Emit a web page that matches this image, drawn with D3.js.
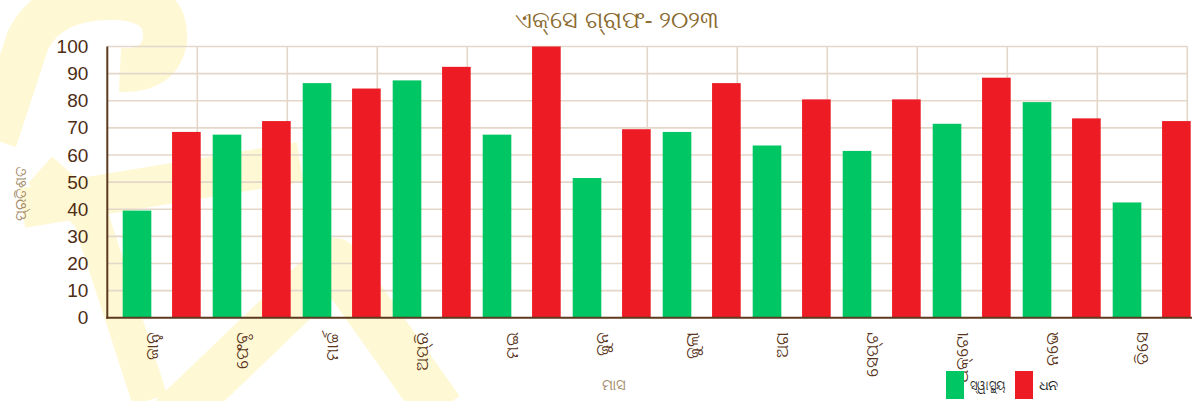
<!DOCTYPE html>
<html>
<head>
<meta charset="utf-8">
<script src="https://cdn.jsdelivr.net/npm/d3@7/dist/d3.min.js"></script>
<style>
  html, body { margin: 0; padding: 0; background: #ffffff; }
  svg { display: block; }
</style>
</head>
<body>
<svg id="chart" width="1192" height="401"></svg>
<script>
// Monthly percentages for two series
const months = ["ଜାନୁ", "ଫେବୃ", "ମାର୍ଚ୍ଚ", "ଅପ୍ରି", "ମଇ", "ଜୁନ", "ଜୁଲା", "ଅଗ", "ସେପ୍ଟ", "ଅକ୍ଟୋ", "ନଭେ", "ଡିସେ"];
const seriesNames = ["ସ୍ୱାସ୍ଥ୍ୟ", "ଧନ"];
const health = [39.5, 67.5, 86.5, 87.5, 67.5, 51.5, 68.5, 63.5, 61.5, 71.5, 79.5, 42.5];
const wealth = [68.5, 72.5, 84.5, 92.5, 100, 69.5, 86.5, 80.5, 80.5, 88.5, 73.5, 72.5];
const yTicks = [0, 10, 20, 30, 40, 50, 60, 70, 80, 90, 100];
const seriesColors = ["#00c764", "#ed1c24"];

const titleText = "ଏକ୍ସେ ଗ୍ରାଫ-  ୨୦୨୩";
const yLabel = "ପ୍ରତିଶତ";
const xLabel = "ମାସ";

const svg = d3.select("#chart");
const plot = { left: 107.3, right: 1187.3, top: 46.5, bottom: 317.7 };

// faint decorative backdrop strokes
const deco = svg.append("g").attr("fill", "none").attr("stroke", "#fff8d4").attr("stroke-linejoin", "round");
deco.append("path").attr("stroke-width", 44)
  .attr("d", "M -5,140 L 28,40 Q 48,0 105,-2 Q 168,-4 165,40 Q 160,72 120,70");
deco.append("path").attr("stroke-width", 40)
  .attr("d", "M 22,208 L 300,162");
deco.append("path").attr("stroke-width", 36)
  .attr("d", "M 40,170 L 90,215 L 150,400");
deco.append("path").attr("stroke-width", 48)
  .attr("d", "M 170,420 L 335,262 L 440,410");

const x = d3.scaleBand().domain(months).range([plot.left, plot.right]).padding(0);
const inner = d3.scaleBand().domain(seriesNames).range([15.4, 93.4]).paddingInner(0.42).paddingOuter(0);
const y = d3.scaleLinear().domain([0, 100]).range([plot.bottom, plot.top]);

// gridlines
const grid = svg.append("g").attr("stroke", "#e4d7ca").attr("stroke-width", 1.6);
grid.selectAll("line.h").data(yTicks.filter(d => d > 0)).enter().append("line")
  .attr("x1", plot.left).attr("x2", plot.right)
  .attr("y1", d => y(d)).attr("y2", d => y(d));
grid.selectAll("line.v").data(months.slice(1).map(m => x(m)).concat([plot.right])).enter().append("line")
  .attr("x1", d => d).attr("x2", d => d)
  .attr("y1", plot.top).attr("y2", plot.bottom);

// bars
const rows = months.map((m, i) => ({ month: m, values: [health[i], wealth[i]] }));
const groups = svg.append("g").selectAll("g").data(rows).enter().append("g")
  .attr("transform", d => `translate(${x(d.month)},0)`);
groups.selectAll("rect").data(d => d.values.map((v, j) => ({ name: seriesNames[j], v, j }))).enter().append("rect")
  .attr("x", d => inner(d.name))
  .attr("width", inner.bandwidth())
  .attr("y", d => y(d.v))
  .attr("height", d => y(0) - y(d.v))
  .attr("fill", d => seriesColors[d.j]);

// y axis
const yAxis = svg.append("g").attr("transform", `translate(${plot.left},0)`)
  .call(d3.axisLeft(y).tickValues(yTicks).tickSize(0).tickPadding(19));
yAxis.select(".domain").remove();
yAxis.selectAll("text").attr("fill", "#4e2d14").style("font-family", "'Liberation Sans', Arial, sans-serif").style("font-size", "19px");

// x axis, month names read upwards and hang below the baseline
const xAxis = svg.append("g").attr("transform", `translate(0,${plot.bottom})`)
  .call(d3.axisBottom(x).tickSize(0).tickPadding(0));
xAxis.select(".domain").remove();
xAxis.selectAll("text")
  .attr("fill", "#5a3520")
  .style("font-family", "'Noto Sans', sans-serif")
  .style("font-size", "17px")
  .attr("text-anchor", "end")
  .attr("x", 0).attr("y", 0)
  .attr("dy", "0.35em")
  .attr("transform", "translate(0,14) rotate(-90)");

// axis lines
const axisColor = "#5c3a1f";
svg.append("line").attr("x1", plot.left).attr("x2", plot.left).attr("y1", plot.top).attr("y2", plot.bottom + 1)
  .attr("stroke", axisColor).attr("stroke-width", 2);
svg.append("line").attr("x1", plot.left - 1).attr("x2", plot.right + 5).attr("y1", plot.bottom).attr("y2", plot.bottom)
  .attr("stroke", axisColor).attr("stroke-width", 2);

// title
svg.append("text").attr("x", 617).attr("y", 28).attr("text-anchor", "middle")
  .attr("fill", "#8a6a2e").style("font-family", "'Noto Sans', sans-serif").style("font-size", "24px")
  .text(titleText);

// axis titles
svg.append("text").attr("transform", "translate(21,193) rotate(-90)").attr("text-anchor", "middle")
  .attr("dy", "0.35em")
  .attr("fill", "#a48c6c").style("font-family", "'Noto Sans', sans-serif").style("font-size", "15px")
  .text(yLabel);
svg.append("text").attr("x", 614).attr("y", 390).attr("text-anchor", "middle")
  .attr("fill", "#a48c6c").style("font-family", "'Noto Sans', sans-serif").style("font-size", "15px")
  .text(xLabel);

// legend
const legendWidths = [36, 20];
const legend = svg.append("g").attr("transform", "translate(946,371)");
const li = legend.selectAll("g").data(seriesNames).enter().append("g")
  .attr("transform", (d, i) => `translate(${i * 69},0)`);
li.append("rect").attr("width", 18).attr("height", 28).attr("fill", (d, i) => seriesColors[i]);
li.append("text").attr("x", 24).attr("y", 19).attr("fill", "#222")
  .style("font-family", "'Noto Sans', sans-serif").style("font-size", "14px")
  .attr("textLength", (d, i) => legendWidths[i]).attr("lengthAdjust", "spacingAndGlyphs")
  .text(d => d);
</script>
</body>
</html>
